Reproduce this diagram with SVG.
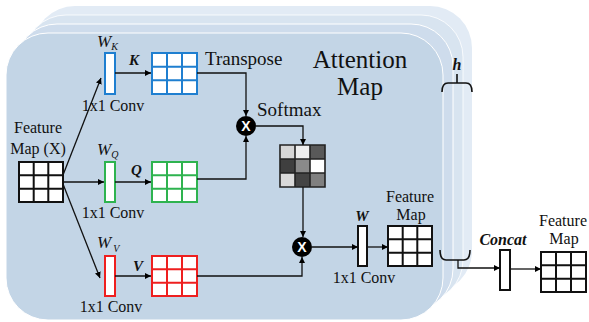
<svg xmlns="http://www.w3.org/2000/svg" width="589" height="322" viewBox="0 0 589 322">
<defs>
<marker id="arr" markerUnits="userSpaceOnUse" markerWidth="8" markerHeight="8" refX="6" refY="3" orient="auto">
<path d="M0,0 L6,3 L0,6 Z" fill="#000"/>
</marker>
</defs>
<style>
text{font-family:"Liberation Serif","Times New Roman",serif;fill:#111;}
.t{font-size:16px;}
.big{font-size:19px;}
.it{font-style:italic;}
.bi{font-style:italic;font-weight:bold;}
.grid{fill:#fff;stroke-width:2;}
.bar{fill:#fff;stroke-width:2;}
.conn{fill:none;stroke:#111;stroke-width:1.3;}
.brace{fill:none;stroke:#111;stroke-width:1.6;}
.mul{fill:#000;}
.mx{font-family:"Liberation Sans",Arial,sans-serif;font-weight:bold;font-size:14px;fill:#fff;}
</style>
<g id="panels">
<rect x="33" y="6" width="439" height="287" rx="42" fill="#e2ebf5"/>
<rect x="24" y="15" width="439" height="287" rx="42" fill="#d8e4f0" stroke="#fff" stroke-width="0.8"/>
<rect x="15" y="24" width="438" height="287" rx="42" fill="#cedcec" stroke="#fff" stroke-width="1"/>
<rect x="6" y="33" width="437" height="287" rx="42" fill="#c3d5e6" stroke="#fff" stroke-width="1"/>
</g>
<g id="title">
<text x="360" y="68" text-anchor="middle" style="font-size:25px">Attention</text>
<text x="360" y="95" text-anchor="middle" style="font-size:25px">Map</text>
</g>
<g id="input">
<text class="t" x="38" y="133" text-anchor="middle">Feature</text>
<text class="t" x="38" y="154" text-anchor="middle">Map (X)</text>
<path class="grid" stroke="#111" d="M19,162 H63 V202 H19 Z M33.7,162 V202 M48.3,162 V202 M19,175.3 H63 M19,188.7 H63"/>
</g>
<g id="wk">
<text class="it" x="97" y="47" style="font-size:17px">W<tspan class="it" style="font-size:10px" dy="3">K</tspan></text>
<rect class="bar" stroke="#1f7fd0" x="105" y="53" width="10" height="41"/>
<text class="t" x="113" y="111" text-anchor="middle">1x1 Conv</text>
</g>
<g id="kgrid">
<text class="bi" x="129" y="65" style="font-size:15px">K</text>
<path class="grid" stroke="#1f7fd0" d="M152,53 H197 V94 H152 Z M167,53 V94 M182,53 V94 M152,66.7 H197 M152,80.3 H197"/>
<text class="big" x="205" y="65">Transpose</text>
</g>
<g id="wq">
<text class="it" x="97" y="155" style="font-size:17px">W<tspan class="it" style="font-size:10px" dy="3">Q</tspan></text>
<rect class="bar" stroke="#2eb34f" x="105" y="162" width="10" height="40"/>
<text class="t" x="113" y="218" text-anchor="middle">1x1 Conv</text>
</g>
<g id="qgrid">
<text class="bi" x="131" y="175" style="font-size:15px">Q</text>
<path class="grid" stroke="#2eb34f" d="M152,162 H197 V202 H152 Z M167,162 V202 M182,162 V202 M152,175.3 H197 M152,188.7 H197"/>
</g>
<g id="wv">
<text class="it" x="97" y="248" style="font-size:17px">W<tspan class="it" style="font-size:10px" dx="2" dy="4">V</tspan></text>
<rect class="bar" stroke="#ee1f1f" x="105" y="256" width="10" height="40"/>
<text class="t" x="111" y="312" text-anchor="middle">1x1 Conv</text>
</g>
<g id="vgrid">
<text class="bi" x="133" y="271" style="font-size:15px">V</text>
<path class="grid" stroke="#ee1f1f" d="M152,256 H197 V296 H152 Z M167,256 V296 M182,256 V296 M152,269.3 H197 M152,282.7 H197"/>
</g>
<g id="mul1">
<circle class="mul" cx="246" cy="126" r="10"/>
<text class="mx" x="246" y="131" text-anchor="middle">X</text>
<text class="big" x="257" y="116">Softmax</text>
</g>
<g id="softmax">
<rect x="280" y="145" width="15" height="14" fill="#d6d6d6"/>
<rect x="295" y="145" width="15" height="14" fill="#efefef"/>
<rect x="310" y="145" width="15" height="14" fill="#595959"/>
<rect x="280" y="159" width="15" height="14" fill="#3f3f3f"/>
<rect x="295" y="159" width="15" height="14" fill="#8a8a8a"/>
<rect x="310" y="159" width="15" height="14" fill="#ffffff"/>
<rect x="280" y="173" width="15" height="14" fill="#d9d9d9"/>
<rect x="295" y="173" width="15" height="14" fill="#444444"/>
<rect x="310" y="173" width="15" height="14" fill="#808080"/>
<path fill="none" stroke="#222" stroke-width="1.6" d="M280,145 H325 V187 H280 Z M295,145 V187 M310,145 V187 M280,159 H325 M280,173 H325"/>
</g>
<g id="mul2">
<circle class="mul" cx="302" cy="247" r="10"/>
<text class="mx" x="302" y="252" text-anchor="middle">X</text>
</g>
<g id="w">
<text class="bi" x="362" y="221" text-anchor="middle" style="font-size:15px">W</text>
<rect class="bar" stroke="#111" x="358" y="226" width="9" height="40"/>
<text class="t" x="364" y="283" text-anchor="middle">1x1 Conv</text>
</g>
<g id="fmap1">
<text class="t" x="410" y="202" text-anchor="middle">Feature</text>
<text class="t" x="411" y="220" text-anchor="middle">Map</text>
<path class="grid" stroke="#111" d="M388,226 H432 V266 H388 Z M402.7,226 V266 M417.3,226 V266 M388,239.3 H432 M388,252.7 H432"/>
</g>
<g id="h">
<text class="bi" x="457" y="70" text-anchor="middle" style="font-size:16px">h</text>
<path class="brace" d="M442,92 Q442,83 448,83 L466,83 Q472,83 472,92 M457,83 V74"/>
</g>
<g id="concat">
<text class="bi" x="503" y="245" text-anchor="middle" style="font-size:16px">Concat</text>
<rect class="bar" stroke="#111" x="500" y="250" width="10" height="40"/>
</g>
<g id="fmap2">
<text class="t" x="563" y="226" text-anchor="middle">Feature</text>
<text class="t" x="564" y="244" text-anchor="middle">Map</text>
<path class="grid" stroke="#111" d="M541,252 H586 V292 H541 Z M556,252 V292 M571,252 V292 M541,265.3 H586 M541,278.7 H586"/>
</g>
<g id="connectors">
<path class="conn" marker-end="url(#arr)" d="M63,175 L101,78"/>
<path class="conn" marker-end="url(#arr)" d="M63,182 L104,182"/>
<path class="conn" marker-end="url(#arr)" d="M63,184 L100,278"/>
<path class="conn" marker-end="url(#arr)" d="M115,73 L151,73"/>
<path class="conn" marker-end="url(#arr)" d="M115,182 L151,182"/>
<path class="conn" marker-end="url(#arr)" d="M115,276 L151,276"/>
<path class="conn" marker-end="url(#arr)" d="M197,73 H246 V116"/>
<path class="conn" marker-end="url(#arr)" d="M197,179 H246 V136"/>
<path class="conn" marker-end="url(#arr)" d="M256,126 H303 V145"/>
<path class="conn" marker-end="url(#arr)" d="M303,187 V237"/>
<path class="conn" marker-end="url(#arr)" d="M197,276 H302 V257"/>
<path class="conn" marker-end="url(#arr)" d="M312,247 H358"/>
<path class="conn" marker-end="url(#arr)" d="M367,247 H388"/>
<path class="brace" d="M440,250 Q440,260 446,260 L464,260 Q470,260 470,250"/>
<path class="conn" marker-end="url(#arr)" d="M458,260 V268 H500"/>
<path class="conn" marker-end="url(#arr)" d="M510,269 H541"/>
</g>
</svg>
